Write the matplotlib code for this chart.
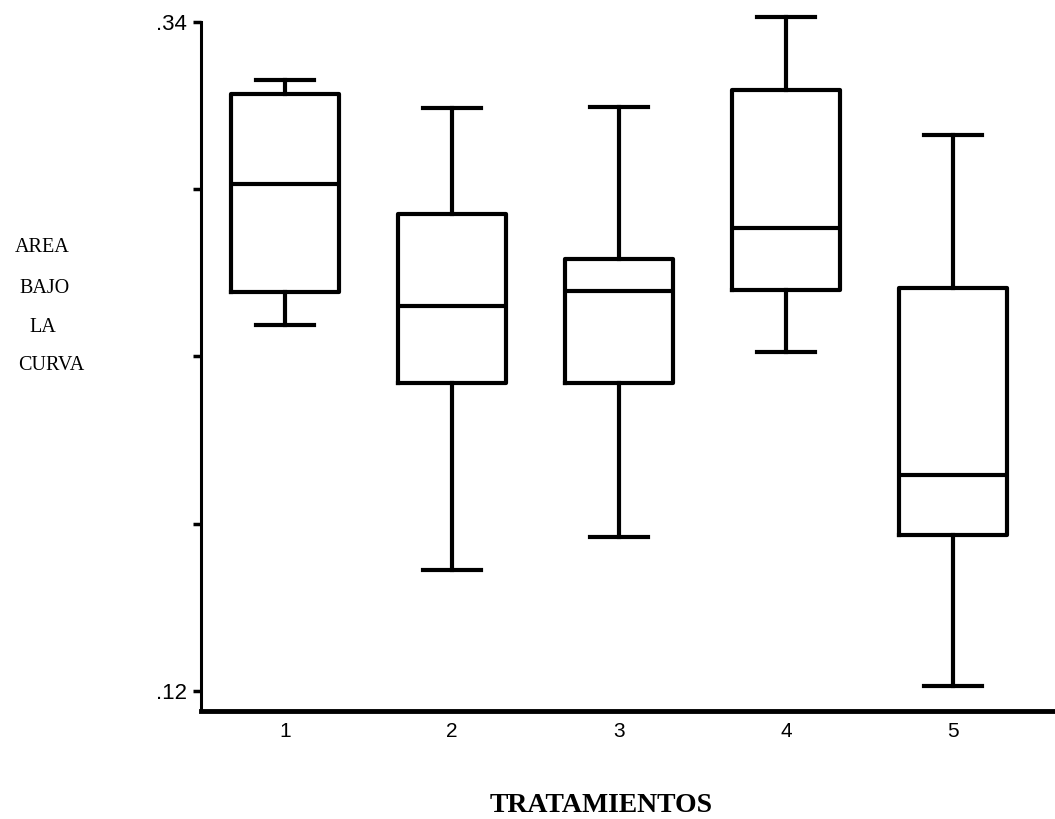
import matplotlib.pyplot as plt

# treatment groups and box statistics
treatments = ['1', '2', '3', '4', '5']
whisker_low = [0.2403, 0.1597, 0.1706, 0.2314, 0.1216]
q1 = [0.2512, 0.2213, 0.2213, 0.2518, 0.1712]
median = [0.2867, 0.2466, 0.2515, 0.2722, 0.1910]
q3 = [0.3163, 0.2768, 0.2620, 0.3176, 0.2525]
whisker_high = [0.3209, 0.3117, 0.3120, 0.3416, 0.3028]

y_ticks = [0.12, 0.175, 0.23, 0.285, 0.34]
y_tick_labels = ['.12', '', '', '', '.34']
ylabel_lines = ['AREA', 'BAJO', 'LA', 'CURVA']


def main():
    fig = plt.figure(figsize=(10.55, 8.19), dpi=100)
    ax = fig.add_axes([201 / 1055, 108 / 819, 1 - 201 / 1055, 809 / 819 - 108 / 819])

    stats = []
    for i in range(len(treatments)):
        stats.append({
            'whislo': whisker_low[i], 'q1': q1[i], 'med': median[i],
            'q3': q3[i], 'whishi': whisker_high[i], 'fliers': [],
        })

    lw = 3.0
    positions = list(range(1, len(treatments) + 1))
    ax.bxp(stats, positions=positions, widths=0.65, showfliers=False,
           boxprops=dict(color='black', linewidth=lw),
           medianprops=dict(color='black', linewidth=lw),
           whiskerprops=dict(color='black', linewidth=lw),
           capprops=dict(color='black', linewidth=lw),
           capwidths=0.35)

    ax.set_xlim(0.497, 5.61)
    ax.set_ylim(0.1134, 0.34395)

    ax.spines['top'].set_visible(False)
    ax.spines['right'].set_visible(False)
    ax.spines['left'].set_linewidth(2.2)
    ax.spines['bottom'].set_linewidth(3.5)
    ax.spines['left'].set_bounds(0.1134, 0.34)

    ax.set_xticks(positions)
    ax.set_xticklabels(treatments, family='Liberation Sans', fontsize=15)
    ax.tick_params(axis='x', length=0, pad=8)

    ax.set_yticks(y_ticks)
    ax.set_yticklabels(y_tick_labels, family='Liberation Sans', fontsize=16)
    ax.tick_params(axis='y', length=6, width=2.5, direction='out', pad=4)

    ys = [248, 288, 328, 366]
    xs = [42, 45, 43, 51]
    for txt, x, y in zip(ylabel_lines, xs, ys):
        fig.text(x / 1055, 1 - y / 819, txt, ha='center', va='center',
                 family='Liberation Serif', fontsize=14.5)

    fig.text(601 / 1055, 1 - 806 / 819, 'TRATAMIENTOS', ha='center', va='center',
             family='Liberation Serif', fontweight='bold', fontsize=20)

    fig.savefig('out.png', dpi=100)


if __name__ == '__main__':
    main()
